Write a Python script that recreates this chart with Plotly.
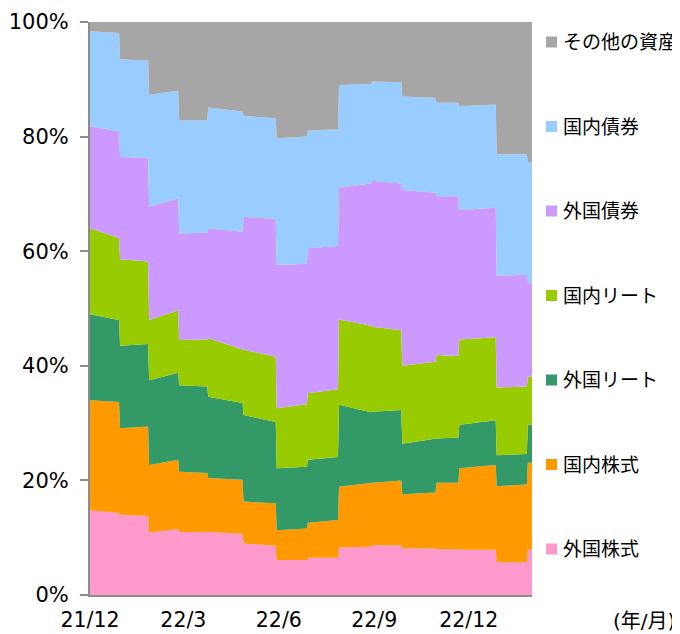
import plotly.graph_objects as go

# Segment start / end dates (monthly rebalancing steps)
dates = [
    "2021-12-01", "2021-12-29", "2021-12-30", "2022-01-26", "2022-01-27", "2022-02-24",
    "2022-02-25", "2022-03-24", "2022-03-25", "2022-04-27", "2022-04-28", "2022-05-29",
    "2022-05-30", "2022-06-28", "2022-06-29", "2022-07-28", "2022-07-29", "2022-08-29",
    "2022-08-30", "2022-09-27", "2022-09-28", "2022-10-30", "2022-10-31", "2022-11-21",
    "2022-11-22", "2022-12-27", "2022-12-28", "2023-01-26", "2023-01-27", "2023-01-31",
]

# Shares (%) of each asset class, bottom of stack first
foreign_stock = [14.8, 14.3, 14.0, 13.8, 10.9, 11.5, 11.0, 11.0, 11.0, 10.7, 9.0, 8.6, 6.1, 6.1, 6.5,
                 6.5, 8.3, 8.4, 8.7, 8.7, 8.1, 8.1, 8.0, 8.0, 7.9, 7.9, 5.7, 5.7, 7.9, 7.9]
domestic_stock = [19.2, 19.4, 15.1, 15.6, 11.8, 12.1, 10.5, 10.3, 9.4, 9.4, 7.3, 7.4, 5.2, 5.5, 6.1,
                  6.6, 10.6, 11.1, 10.9, 11.3, 9.5, 9.8, 11.6, 11.6, 14.2, 14.8, 13.3, 13.6, 15.2, 15.2]
foreign_reit = [15.0, 14.3, 14.4, 14.4, 14.8, 15.2, 15.1, 15.1, 14.2, 13.4, 15.1, 14.2, 10.8, 10.8, 11.0,
                11.0, 14.3, 12.4, 12.4, 12.3, 8.8, 9.3, 7.7, 7.9, 7.6, 7.8, 5.4, 5.3, 6.6, 6.6]
domestic_reit = [15.0, 14.3, 15.1, 14.4, 10.5, 10.9, 7.9, 8.2, 10.2, 9.3, 11.4, 11.4, 10.5, 10.9, 11.6,
                 11.8, 14.9, 15.1, 14.8, 13.9, 13.6, 13.5, 14.6, 14.2, 14.9, 14.5, 11.8, 11.8, 8.4, 8.4]
foreign_bond = [17.8, 18.6, 17.9, 18.0, 19.8, 19.5, 18.6, 18.6, 19.2, 20.6, 23.2, 24.0, 25.0, 24.5, 25.3,
                25.0, 23.0, 24.8, 25.5, 25.6, 30.7, 29.5, 27.7, 27.9, 22.6, 22.6, 19.5, 19.5, 16.3, 16.3]
domestic_bond = [16.6, 17.2, 17.0, 17.1, 19.5, 18.8, 19.7, 19.6, 21.1, 21.0, 17.6, 17.6, 22.1, 22.2, 20.5,
                 20.4, 17.9, 17.4, 17.3, 17.7, 16.3, 16.6, 16.3, 16.3, 18.1, 18.0, 21.2, 21.0, 21.1, 21.1]
other_assets = [1.6, 1.9, 6.5, 6.7, 12.7, 12.0, 17.2, 17.2, 14.9, 15.6, 16.4, 16.8, 20.3, 20.0, 19.0,
                18.7, 11.0, 10.8, 10.4, 10.5, 13.0, 13.2, 14.1, 14.1, 14.7, 14.4, 23.1, 23.1, 24.5, 24.5]

names = ["外国株式", "国内株式", "外国リート", "国内リート", "外国債券", "国内債券", "その他の資産"]
colors = ["#ff99cc", "#ff9900", "#339966", "#99cc00", "#cc99ff", "#99ccff", "#a6a6a6"]
values = [foreign_stock, domestic_stock, foreign_reit, domestic_reit, foreign_bond, domestic_bond, other_assets]

tick_dates = ["2021-12-01", "2022-03-01", "2022-06-01", "2022-09-01", "2022-12-01"]
tick_text = ["21/12", "22/3", "22/6", "22/9", "22/12"]
y_ticks = [0, 20, 40, 60, 80, 100]
y_text = ["0%", "20%", "40%", "60%", "80%", "100%"]

FONT = "DejaVu Sans, Noto Sans CJK JP, sans-serif"
AXIS = "#8c8c8c"

fig = go.Figure()
for name, vals, col in zip(names, values, colors):
    fig.add_trace(go.Scatter(
        x=dates, y=vals, name=name, mode="lines", stackgroup="one",
        line=dict(width=0, color=col), fillcolor=col, showlegend=False,
        hoverinfo="skip",
    ))

# The page body has an 8px margin, so the figure is laid out 8px smaller
OFF = 8
W, H = 680 - OFF, 634 - OFF
L, R, T, B = 90 - OFF, 148, 22 - OFF, 39
pw, ph = W - L - R, H - T - B


def px_x(x):  # absolute screen x -> paper
    return (x - OFF - L) / pw


def px_y(y):  # absolute screen y -> paper
    return (H - B - (y - OFF)) / ph


shapes, annotations = [], []
for i, (name, col) in enumerate(zip(names[::-1], colors[::-1])):
    yc = 42 + i * 84.5
    shapes.append(dict(type="rect", xref="paper", yref="paper",
                       x0=px_x(546), x1=px_x(557),
                       y0=px_y(yc + 5.5), y1=px_y(yc - 5.5),
                       fillcolor=col, line=dict(width=0)))
    annotations.append(dict(text=name, xref="paper", yref="paper",
                            x=px_x(561), y=px_y(yc), xanchor="left", yanchor="middle",
                            showarrow=False, font=dict(size=19, color="#000000", family=FONT)))

annotations.append(dict(text="(年/月)", xref="paper", yref="paper",
                        x=px_x(677), y=px_y(621), xanchor="right", yanchor="middle",
                        showarrow=False, font=dict(size=20, color="#000000", family=FONT)))

fig.update_layout(
    width=W, height=H,
    margin=dict(l=L, r=R, t=T, b=B, autoexpand=False),
    paper_bgcolor="white", plot_bgcolor="white",
    font=dict(family=FONT, size=21, color="#000000"),
    shapes=shapes, annotations=annotations,
    xaxis=dict(type="date", range=["2021-12-01", "2023-01-31"],
               tickvals=tick_dates, ticktext=tick_text, automargin=False,
               showgrid=False, zeroline=False,
               showline=True, linecolor=AXIS, linewidth=2,
               ticks="", ticklabelstandoff=5, tickfont=dict(size=20.5)),
    yaxis=dict(range=[0, 100], tickvals=y_ticks, ticktext=y_text, automargin=False,
               showgrid=False, zeroline=False,
               showline=True, linecolor=AXIS, linewidth=2,
               ticks="outside", ticklen=8, tickwidth=2, tickcolor=AXIS,
               ticklabelstandoff=7),
)

fig.write_html("out.html")
